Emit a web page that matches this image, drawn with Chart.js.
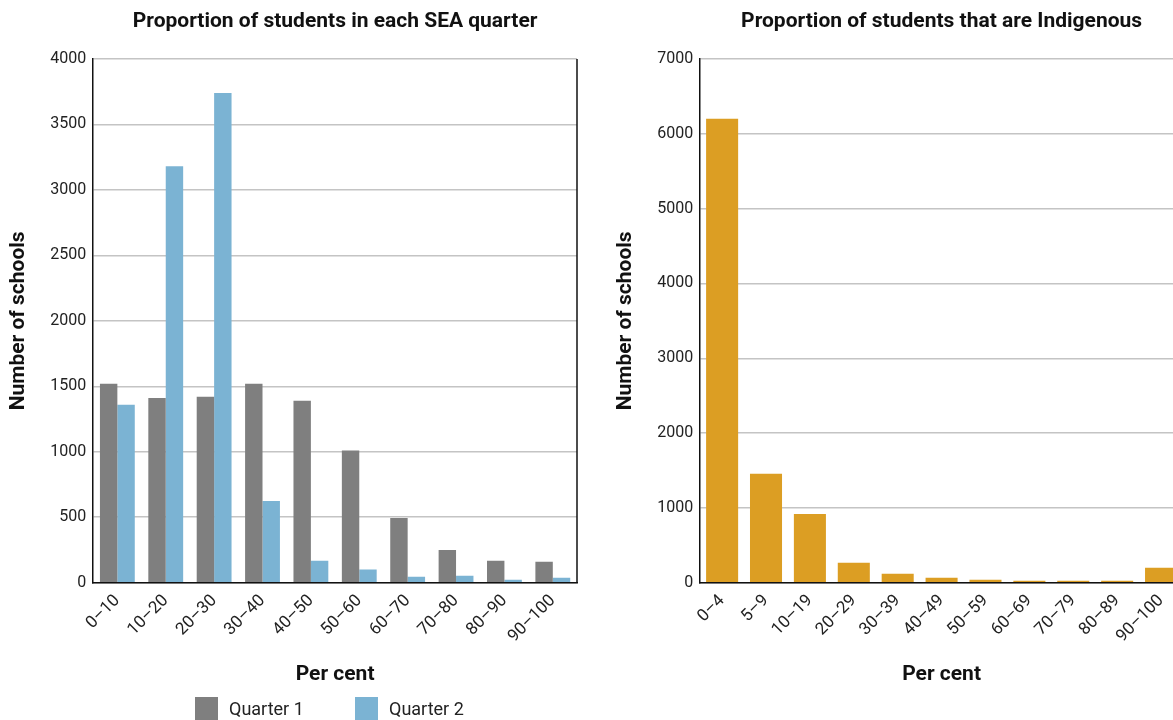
<!DOCTYPE html>
<html>
<head>
<meta charset="utf-8">
<script src="https://cdn.jsdelivr.net/npm/chart.js@4.4.0/dist/chart.umd.min.js"></script>
<style>
  html, body { margin: 0; padding: 0; background: #fff; overflow: hidden; width: 1173px; height: 720px; }
  .box { position: absolute; top: 0; height: 720px; }
  #leftBox { left: 0; width: 592px; }
  #rightBox { left: 603px; width: 585px; }
  .legend { position: absolute; top: 697px; font-family: Roboto, "Open Sans", sans-serif; font-size: 18px; color: #222; display: flex; align-items: center; height: 23px; }
  .legend span.sw { display: inline-block; width: 23px; height: 23px; margin-right: 11px; }
</style>
</head>
<body>
<div class="box" id="leftBox"><canvas id="seaChart"></canvas></div>
<div class="box" id="rightBox"><canvas id="indigChart"></canvas></div>
<div class="legend" style="left:195px"><span class="sw" style="background:#7f7f7f"></span>Quarter 1</div>
<div class="legend" style="left:355px"><span class="sw" style="background:#7bb3d3"></span>Quarter 2</div>
<script>
// 左图：SEA 四分位
const seaLabels = ["0–10", "10–20", "20–30", "30–40", "40–50", "50–60", "60–70", "70–80", "80–90", "90–100"]
const quarter1 = [1520, 1410, 1420, 1520, 1390, 1010, 495, 250, 168, 160]
const quarter2 = [1360, 3180, 3740, 625, 168, 100, 46, 53, 23, 38]
const seaTicks = [0, 500, 1000, 1500, 2000, 2500, 3000, 3500, 4000]

// 右图：原住民学生比例
const indigLabels = ["0–4", "5–9", "10–19", "20–29", "30–39", "40–49", "50–59", "60–69", "70–79", "80–89", "90–100"]
const indigValues = [6200, 1455, 920, 268, 120, 67, 40, 27, 27, 27, 200]
const indigTicks = [0, 1000, 2000, 3000, 4000, 5000, 6000, 7000]

const fontFamily = "Roboto, 'Open Sans', sans-serif"
const gridColor = "#c4c4c4"

function yAxis(tickValues, title) {
  return {
    min: 0,
    max: tickValues[tickValues.length - 1],
    afterBuildTicks: (axis) => {
      axis.ticks = tickValues.map((v) => ({ value: v }))
    },
    ticks: { color: "#222", font: { family: fontFamily, size: 16 }, padding: 7, callback: (v) => String(v) },
    grid: { color: gridColor, lineWidth: 1.5, drawTicks: false },
    border: { color: "#111", width: 1.5 },
    title: { display: true, text: title, color: "#111", font: { family: fontFamily, size: 21, weight: "bold" }, padding: { top: 0, bottom: 12 } },
  }
}

function xAxis() {
  return {
    ticks: { color: "#222", font: { family: fontFamily, size: 17 }, maxRotation: 45, minRotation: 45, padding: 8 },
    grid: { display: false, drawTicks: false },
    border: { color: "#111", width: 1.5 },
    title: { display: true, text: "Per cent", color: "#111", font: { family: fontFamily, size: 21, weight: "bold" }, padding: { top: 7, bottom: 0 } },
  }
}

// 标题居中于绘图区，左图加右边框
const frameTitle = {
  id: "frameTitle",
  afterDraw(chart, args, opts) {
    const a = chart.chartArea
    const ctx = chart.ctx
    ctx.save()
    ctx.fillStyle = "#111"
    ctx.font = "bold 21px " + fontFamily
    ctx.textAlign = "center"
    ctx.textBaseline = "middle"
    ctx.fillText(opts.text, (a.left + a.right) / 2, 22)
    if (opts.rightBorder) {
      ctx.strokeStyle = "#111"
      ctx.lineWidth = 1.5
      ctx.beginPath()
      ctx.moveTo(a.right, a.top)
      ctx.lineTo(a.right, a.bottom)
      ctx.stroke()
    }
    ctx.restore()
  },
}

new Chart(document.getElementById("seaChart").getContext("2d"), {
  type: "bar",
  data: {
    labels: seaLabels,
    datasets: [
      { label: "Quarter 1", data: quarter1, backgroundColor: "#7f7f7f", categoryPercentage: 0.72, barPercentage: 1 },
      { label: "Quarter 2", data: quarter2, backgroundColor: "#7bb3d3", categoryPercentage: 0.72, barPercentage: 1 },
    ],
  },
  options: {
    responsive: true,
    maintainAspectRatio: false,
    animation: false,
    layout: { padding: { left: 6, right: 15, top: 59, bottom: 33 } },
    plugins: {
      frameTitle: { text: "Proportion of students in each SEA quarter", rightBorder: true },
      legend: { display: false },
      tooltip: { enabled: false },
    },
    scales: { x: xAxis(), y: yAxis(seaTicks, "Number of schools") },
  },
  plugins: [frameTitle],
})

new Chart(document.getElementById("indigChart").getContext("2d"), {
  type: "bar",
  data: {
    labels: indigLabels,
    datasets: [
      { label: "Schools", data: indigValues, backgroundColor: "#dc9e23", categoryPercentage: 1, barPercentage: 0.73 },
    ],
  },
  options: {
    responsive: true,
    maintainAspectRatio: false,
    animation: false,
    layout: { padding: { left: 10, right: 5, top: 59, bottom: 33 } },
    plugins: {
      frameTitle: { text: "Proportion of students that are Indigenous", rightBorder: false },
      legend: { display: false },
      tooltip: { enabled: false },
    },
    scales: { x: xAxis(), y: yAxis(indigTicks, "Number of schools") },
  },
  plugins: [frameTitle],
})
</script>
</body>
</html>
